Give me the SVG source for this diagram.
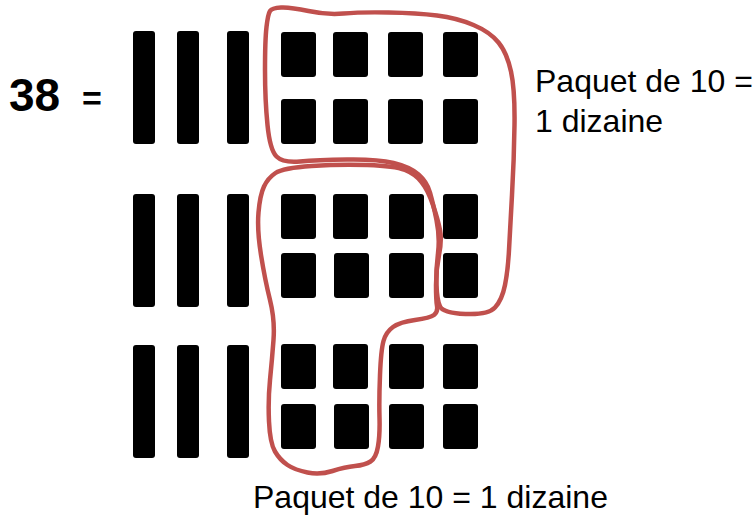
<svg xmlns="http://www.w3.org/2000/svg" width="755" height="516" viewBox="0 0 755 516">
<style>
.b{fill:#000}
.lbl{font-family:"Liberation Sans",Arial,sans-serif;font-size:32px;fill:#000}
.num{font-family:"Liberation Sans",Arial,sans-serif;font-weight:bold;fill:#000}
.loop{fill:none;stroke:#c0504d;stroke-width:4.5;stroke-linejoin:round;stroke-linecap:round}
</style>
<defs>
<rect id="bar" width="22" height="113" rx="3"/>
<rect id="sq" width="35" height="45" rx="3"/>
</defs>
<rect width="755" height="516" fill="#fff"/>
<g id="equation">
<text class="num" x="9" y="111" font-size="46">38</text>
<text class="num" x="82" y="110" font-size="34">=</text>
</g>
<g id="row1">
<use href="#bar" x="133" y="31"/><use href="#bar" x="177" y="31"/><use href="#bar" x="227" y="31"/>
<use href="#sq" x="281" y="32"/><use href="#sq" x="333" y="32"/><use href="#sq" x="388" y="32"/><use href="#sq" x="443" y="32"/>
<use href="#sq" x="281" y="99"/><use href="#sq" x="333" y="99"/><use href="#sq" x="388" y="99"/><use href="#sq" x="443" y="99"/>
</g>
<g id="row2">
<use href="#bar" x="133" y="194"/><use href="#bar" x="177" y="194"/><use href="#bar" x="227" y="194"/>
<use href="#sq" x="281" y="194"/><use href="#sq" x="333" y="194"/><use href="#sq" x="389" y="194"/><use href="#sq" x="443" y="194"/>
<use href="#sq" x="281" y="253"/><use href="#sq" x="334" y="253"/><use href="#sq" x="389" y="253"/><use href="#sq" x="443" y="253"/>
</g>
<g id="row3">
<use href="#bar" x="133" y="345"/><use href="#bar" x="177" y="345"/><use href="#bar" x="227" y="345"/>
<use href="#sq" x="281" y="344"/><use href="#sq" x="333" y="344"/><use href="#sq" x="389" y="344"/><use href="#sq" x="443" y="344"/>
<use href="#sq" x="281" y="404"/><use href="#sq" x="334" y="404"/><use href="#sq" x="389" y="404"/><use href="#sq" x="443" y="404"/>
</g>
<g id="connectors">
<path id="loop1" class="loop" d="M 270,11 Q 272,8 281,7.5 Q 290,7 308.5,11 Q 327,15 343.5,13.5 Q 360,12 388.5,12.5 Q 417,13 437,15.5 Q 457,18 473.5,25 Q 490,32 498.5,42.5 Q 507,53 511,71.5 Q 515,90 514.5,125 Q 514,160 512,195 Q 510,230 509,250 Q 508,270 505,285 Q 502,300 495,307.5 Q 488,315 465.5,314 Q 443,313 440,306.5 Q 437,300 436.5,285 Q 436,270 438,253.5 Q 440,237 436.5,220 Q 433,203 430,192.5 Q 427,182 418.5,174.5 Q 410,167 393.5,163 Q 377,159 347,159.5 Q 317,160 300,161.5 Q 283,163 276.5,156.5 Q 270,150 267.5,125 Q 265,100 265,70 Q 265,40 266.5,27 Q 268,14 270,11 Z"/>
<path id="loop2" class="loop" d="M 311.5,166 Q 340,164 367.5,165 Q 395,166 405,170 Q 415,174 421.5,182 Q 428,190 433,205 Q 438,220 440,230 Q 442,240 439,255 Q 436,270 436,285 Q 436,300 437,306 Q 438,312 434,315 Q 430,318 415,320 Q 400,322 393,327 Q 386,332 383.5,341 Q 381,350 380,375 Q 379,400 379.5,417.5 Q 380,435 378,446.5 Q 376,458 370.5,461.5 Q 365,465 355,466 Q 345,467 332.5,471 Q 320,475 307.5,472.5 Q 295,470 287.5,465 Q 280,460 275,451.5 Q 270,443 269,421.5 Q 268,400 270,380 Q 272,360 273.5,340 Q 275,320 270,300 Q 265,280 261,255 Q 257,230 258.5,212.5 Q 260,195 264,186.5 Q 268,178 275.5,173 Q 283,168 311.5,166 Z"/>
</g>
<g id="label-top">
<text class="lbl" x="535" y="92">Paquet de 10 =</text>
<text class="lbl" x="535" y="132">1 dizaine</text>
</g>
<g id="label-bottom">
<text class="lbl" x="253" y="508">Paquet de 10 = 1 dizaine</text>
</g>
</svg>
